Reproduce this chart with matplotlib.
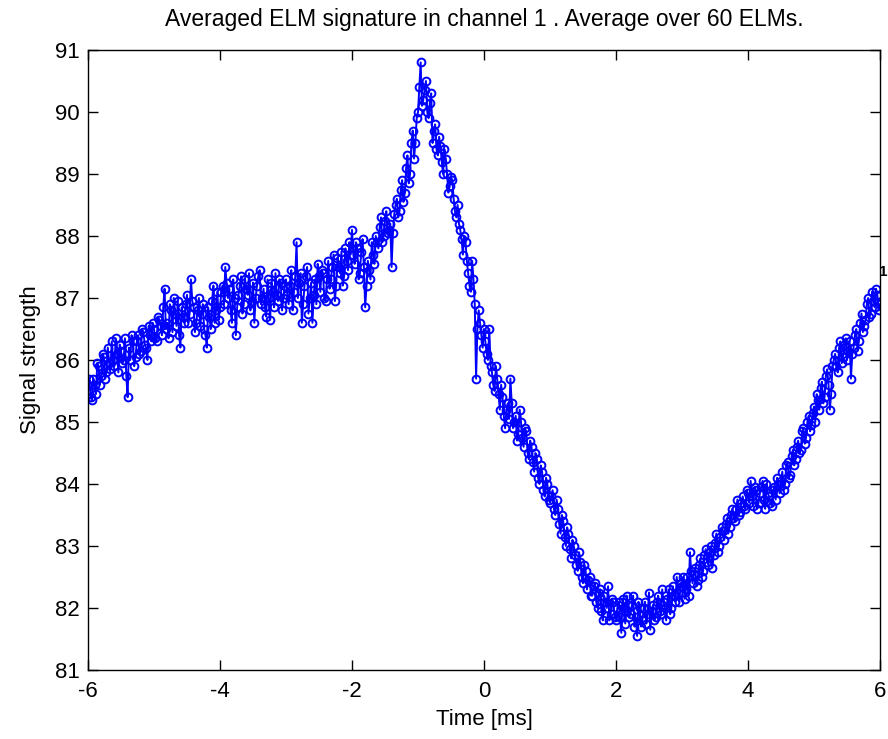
import numpy as np
import matplotlib
matplotlib.use("Agg")
import matplotlib.pyplot as plt

# sampling grid of the averaged trace (ms)
T_START = -6.0
T_STEP = 0.02

# signal values on the even samples (-6.00, -5.96, ...), one list per ms
seg_m6 = [85.5, 85.4, 85.7, 85.45, 85.9, 85.75, 86.05, 85.8, 85.95, 86.3,
          85.9, 86.1, 86.25, 85.95, 86.35, 85.4, 86.0, 86.3, 86.05, 86.4,
          86.15, 86.45, 86.2, 86.55, 86.3]
seg_m5 = [86.5, 86.3, 86.65, 86.4, 87.15, 86.6, 86.9, 86.45, 86.75, 86.95,
          86.2, 86.7, 86.9, 86.6, 87.3, 86.85, 86.6, 87.0, 86.75, 86.5,
          86.2, 86.7, 86.95, 86.6, 87.1]
seg_m4 = [86.85, 87.2, 87.5, 87.0, 86.8, 87.3, 86.4, 87.05, 87.35, 86.9,
          87.15, 87.4, 86.95, 86.6, 87.2, 87.45, 87.0, 86.85, 87.3, 86.65,
          87.1, 87.4, 86.95, 87.25, 87.0]
seg_m3 = [87.3, 86.9, 87.45, 87.1, 87.9, 87.25, 86.6, 87.2, 87.5, 87.0,
          86.6, 87.3, 87.55, 87.1, 87.4, 86.95, 87.6, 87.3, 87.7, 87.2,
          87.5, 87.75, 87.35, 87.6, 87.9]
seg_m2 = [88.1, 87.55, 87.8, 87.4, 87.95, 86.85, 87.6, 87.3, 87.7, 88.0,
          87.8, 88.3, 88.0, 88.4, 88.1, 87.5, 88.35, 88.6, 88.4, 88.9,
          88.7, 89.3, 89.0, 89.7, 89.5]
seg_m1 = [90.0, 90.8, 90.2, 90.5, 89.9, 90.3, 89.7, 89.4, 89.6, 89.2,
          89.4, 89.0, 88.8, 88.9, 88.4, 88.5, 88.1, 87.7, 87.9, 87.4,
          87.1, 87.3, 85.7, 86.8, 86.4]
seg_0 = [86.5, 86.1, 86.5, 85.8, 85.5, 85.7, 85.2, 85.4, 84.9, 85.3,
         85.7, 84.9, 85.1, 84.8, 85.0, 84.6, 84.85, 84.4, 84.6, 84.2,
         84.4, 84.0, 84.2, 83.8, 84.0]
seg_1 = [83.7, 83.9, 83.5, 83.6, 83.2, 83.4, 83.0, 83.2, 82.8, 83.0,
         82.7, 82.9, 82.5, 82.7, 82.3, 82.5, 82.2, 82.4, 82.0, 82.3,
         81.8, 82.1, 82.35, 81.9, 82.1]
seg_2 = [81.8, 82.1, 81.6, 82.0, 82.2, 81.85, 82.05, 81.7, 81.55, 82.0,
         81.8, 82.1, 81.9, 81.65, 82.05, 81.85, 82.2, 81.9, 82.1, 81.8,
         82.3, 82.0, 82.2, 82.5, 82.1]
seg_3 = [82.35, 82.15, 82.5, 82.9, 82.4, 82.65, 82.45, 82.8, 82.6, 82.95,
         82.7, 83.0, 82.85, 83.2, 83.0, 83.3, 83.1, 83.45, 83.3, 83.6,
         83.4, 83.75, 83.55, 83.8, 83.6]
seg_4 = [83.85, 84.05, 83.65, 83.9, 83.7, 83.95, 83.75, 84.0, 83.8, 83.65,
         83.95, 84.1, 83.85, 84.2, 84.0, 84.35, 84.15, 84.55, 84.4, 84.7,
         84.55, 84.9, 84.75, 85.1, 84.95]
seg_5 = [85.25, 85.45, 85.2, 85.65, 85.4, 85.85, 85.2, 85.9, 86.1, 85.8,
         86.3, 86.05, 86.35, 86.15, 85.7, 86.2, 86.5, 86.3, 86.75, 86.55,
         86.9, 86.7, 87.1, 86.85, 87.05, 86.9]

# signal values on the odd samples (-5.98, -5.94, ...)
mid_m6 = [85.7, 85.35, 85.6, 85.95, 85.6, 86.1, 85.7, 86.2, 85.85, 86.0,
          86.35, 85.8, 86.15, 86.0, 85.75, 86.2, 86.4, 85.9, 86.3, 86.1,
          86.5, 86.25, 86.0, 86.4, 86.6]
mid_m5 = [86.35, 86.7, 86.55, 86.85, 86.5, 86.35, 86.8, 87.0, 86.55, 86.4,
          86.85, 86.6, 87.05, 86.75, 86.95, 86.45, 86.8, 86.55, 86.9, 86.4,
          86.85, 86.5, 87.2, 86.8, 86.65]
mid_m4 = [87.1, 86.9, 87.25, 87.15, 86.6, 87.0, 86.85, 87.2, 86.75, 87.3,
          87.05, 86.8, 87.25, 87.0, 87.35, 86.9, 87.15, 86.7, 87.0, 87.25,
          86.85, 87.05, 87.3, 86.8, 87.2]
mid_m3 = [87.05, 87.2, 86.8, 87.35, 87.0, 87.4, 86.9, 87.35, 86.75, 87.25,
          87.05, 86.9, 87.35, 87.45, 87.0, 87.3, 87.15, 87.5, 86.95, 87.65,
          87.4, 87.2, 87.8, 87.45, 87.7]
mid_m2 = [87.7, 87.9, 87.3, 87.75, 87.5, 87.2, 87.45, 87.9, 87.55, 87.9,
          88.15, 87.9, 88.25, 88.05, 88.2, 88.05, 88.5, 88.3, 88.75, 88.55,
          89.1, 88.85, 89.5, 89.25, 89.9]
mid_m1 = [90.4, 90.1, 90.35, 90.0, 90.15, 89.5, 89.8, 89.3, 89.45, 89.0,
          89.25, 88.7, 88.95, 88.6, 88.3, 88.2, 87.95, 88.0, 87.6, 87.2,
          87.6, 86.9, 86.5, 86.6, 86.2]
mid_0 = [86.3, 86.0, 85.9, 85.6, 85.9, 85.45, 85.6, 85.1, 85.2, 85.05,
         85.3, 85.0, 84.7, 85.2, 84.75, 84.9, 84.5, 84.7, 84.35, 84.5,
         84.1, 84.3, 83.9, 84.1, 83.75]
mid_1 = [83.8, 83.6, 83.75, 83.35, 83.5, 83.15, 83.3, 82.95, 83.1, 82.85,
         82.6, 82.75, 82.4, 82.6, 82.45, 82.2, 82.35, 82.1, 82.25, 81.95,
         82.2, 82.0, 81.8, 82.15, 81.85]
mid_2 = [82.0, 81.85, 82.15, 81.75, 82.05, 81.9, 82.2, 81.85, 82.1, 81.7,
         82.0, 81.75, 82.25, 81.95, 81.8, 82.1, 81.95, 82.3, 82.0, 82.15,
         81.9, 82.35, 82.1, 82.25, 82.4]
mid_3 = [82.5, 82.3, 82.2, 82.6, 82.55, 82.35, 82.7, 82.5, 82.85, 82.75,
         82.9, 82.65, 83.05, 82.9, 83.15, 83.25, 83.35, 83.2, 83.5, 83.45,
         83.6, 83.5, 83.7, 83.65, 83.9]
mid_4 = [83.7, 83.8, 83.95, 83.6, 83.85, 84.05, 83.6, 83.85, 83.7, 83.9,
         83.75, 84.0, 84.05, 83.9, 84.3, 84.1, 84.45, 84.3, 84.6, 84.5,
         84.85, 84.65, 85.0, 84.85, 85.15]
mid_5 = [85.0, 85.35, 85.55, 85.3, 85.75, 85.6, 85.45, 86.0, 85.9, 86.2,
         85.95, 86.25, 86.0, 86.3, 86.1, 86.4, 86.15, 86.6, 86.45, 86.65,
         87.0, 86.75, 86.95, 87.15, 86.8]

even = seg_m6 + seg_m5 + seg_m4 + seg_m3 + seg_m2 + seg_m1 + seg_0 + seg_1 + seg_2 + seg_3 + seg_4 + seg_5
odd = mid_m6 + mid_m5 + mid_m4 + mid_m3 + mid_m2 + mid_m1 + mid_0 + mid_1 + mid_2 + mid_3 + mid_4 + mid_5

signal = np.empty(len(even) + len(odd))
signal[0::2] = even
signal[1::2] = odd
time = T_START + T_STEP * np.arange(len(signal))

TITLE = "Averaged ELM signature in channel 1 . Average over 60 ELMs."
channel = "1"

plt.rcParams["font.family"] = ["Liberation Sans", "DejaVu Sans"]
plt.rcParams["axes.unicode_minus"] = False

fig = plt.figure(figsize=(8.88, 7.39), dpi=100)
ax = fig.add_axes([88 / 888, 1 - 670 / 739, 792 / 888, 620 / 739])

ax.plot(time, signal, "-o", color="#0000ff", lw=1.4, ms=5.6,
        mfc="none", mec="#0000ff", mew=1.4)

ax.set_xlim(-6, 6)
ax.set_ylim(81, 91)
ax.set_xticks(np.arange(-6, 7, 2))
ax.set_yticks(np.arange(81, 92, 1))
ax.tick_params(direction="in", top=True, right=True, length=7, width=1,
               labelsize=16)
ax.tick_params(axis="x", pad=8)
ax.tick_params(axis="y", pad=6)
for s in ax.spines.values():
    s.set_linewidth(1.0)

ax.set_xlabel("Time [ms]", fontsize=16, labelpad=5)
ax.set_ylabel("Signal strength", fontsize=16, labelpad=10)
ax.set_title(TITLE, fontsize=16.5, pad=17)

# channel tag squeezed between the right spine and the figure edge
fig.text(887.5 / 888, 1 - 272 / 739, channel, fontsize=11, fontweight="bold",
         ha="right", va="center")

fig.savefig("out.png", dpi=100)
